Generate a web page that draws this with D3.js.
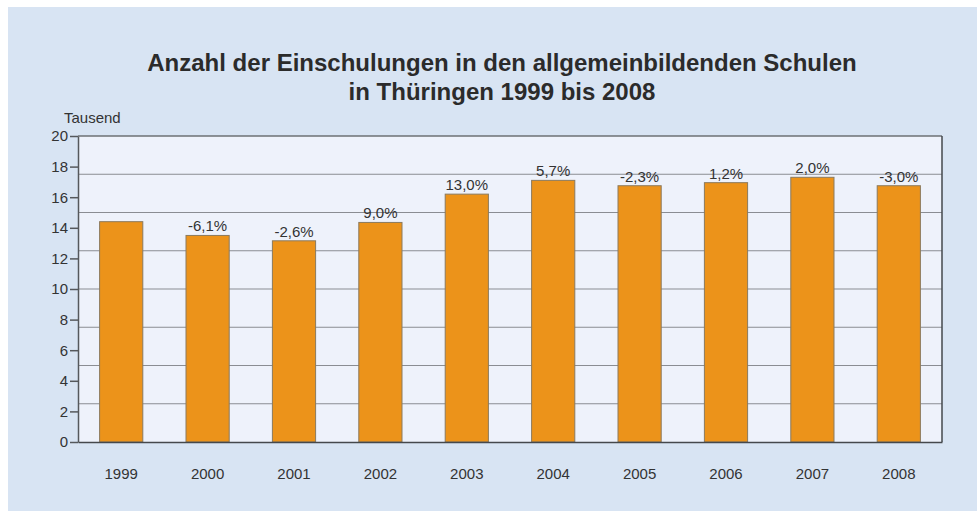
<!DOCTYPE html>
<html lang="de">
<head>
<meta charset="UTF-8">
<title>Einschulungen Thüringen</title>
<script src="https://cdn.jsdelivr.net/npm/d3@7"></script>
<style>
  body { margin: 0; background: #fff; }
  svg { display: block; font-family: "Liberation Sans", Arial, sans-serif; }
</style>
</head>
<body>
<svg width="977" height="511" id="mainsvg"></svg>
<script>
  const years = ['1999', '2000', '2001', '2002', '2003', '2004', '2005', '2006', '2007', '2008']
  const values = [14.4, 13.5, 13.15, 14.35, 16.2, 17.1, 16.75, 16.95, 17.3, 16.75]
  const changes = ['', '-6,1%', '-2,6%', '9,0%', '13,0%', '5,7%', '-2,3%', '1,2%', '2,0%', '-3,0%']
  const yTicks = [0, 2, 4, 6, 8, 10, 12, 14, 16, 18, 20]
  const gridValues = [2.5, 5, 7.5, 10, 12.5, 15, 17.5]

  const svg = d3.select('#mainsvg')
  const width = +svg.attr('width')
  const height = +svg.attr('height')
  const margin = { top: 136, right: 35, bottom: 69, left: 78 }
  const innerWidth = width - margin.left - margin.right
  const innerHeight = height - margin.top - margin.bottom

  // outer panel
  svg.append('rect').attr('x', 8).attr('y', 7)
    .attr('width', width - 8).attr('height', height - 7)
    .attr('fill', '#d8e4f3')

  svg.append('text').attr('x', 502).attr('y', 71)
    .attr('text-anchor', 'middle').attr('font-size', 24).attr('font-weight', 'bold')
    .attr('fill', '#2b2b2b').text('Anzahl der Einschulungen in den allgemeinbildenden Schulen')
  svg.append('text').attr('x', 502).attr('y', 100)
    .attr('text-anchor', 'middle').attr('font-size', 24).attr('font-weight', 'bold')
    .attr('fill', '#2b2b2b').text('in Thüringen 1999 bis 2008')

  const g = svg.append('g').attr('transform', `translate(${margin.left},${margin.top})`)

  const xScale = d3.scaleBand().domain(years).range([0, innerWidth])
    .paddingInner(0.5).paddingOuter(0.25)
  const yScale = d3.scaleLinear().domain([0, 20]).range([innerHeight, 0])

  g.append('rect').attr('width', innerWidth).attr('height', innerHeight).attr('fill', '#eef2fb')

  g.selectAll('.grid').data(gridValues).enter().append('line')
    .attr('class', 'grid')
    .attr('x1', 0).attr('x2', innerWidth)
    .attr('y1', d => yScale(d)).attr('y2', d => yScale(d))
    .attr('stroke', '#8a8d93').attr('stroke-width', 1)

  g.selectAll('.datarect').data(values).enter().append('rect')
    .attr('class', 'datarect')
    .attr('x', (d, i) => xScale(years[i]))
    .attr('y', d => yScale(d))
    .attr('width', xScale.bandwidth())
    .attr('height', d => innerHeight - yScale(d))
    .attr('fill', '#ec931a')
    .attr('stroke', '#8b7a5e').attr('stroke-width', 1)

  g.selectAll('.lbl').data(values).enter().append('text')
    .attr('class', 'lbl')
    .attr('x', (d, i) => xScale(years[i]) + xScale.bandwidth() / 2)
    .attr('y', d => yScale(d) - 4)
    .attr('text-anchor', 'middle').attr('font-size', 15).attr('fill', '#333')
    .text((d, i) => changes[i])

  // frame
  g.append('line').attr('x1', 0).attr('x2', innerWidth).attr('y1', 0).attr('y2', 0)
    .attr('stroke', '#6d7075').attr('stroke-width', 1.5)
  g.append('line').attr('x1', innerWidth).attr('x2', innerWidth).attr('y1', 0).attr('y2', innerHeight)
    .attr('stroke', '#45484c').attr('stroke-width', 1.5)

  const yAxis = d3.axisLeft(yScale).tickValues(yTicks).tickSize(8).tickSizeOuter(0)
  const yg = g.append('g').call(yAxis)
  yg.select('.domain').attr('stroke', '#55585c').attr('stroke-width', 1.5)
  yg.selectAll('.tick line').attr('stroke', '#55585c').attr('stroke-width', 1.5)
  yg.selectAll('.tick text').attr('font-size', 15).attr('fill', '#333')
    .attr('font-family', '"Liberation Sans", Arial, sans-serif').attr('x', -10)

  const xAxis = d3.axisBottom(xScale).tickSize(0).tickSizeOuter(0)
  const xg = g.append('g').attr('transform', `translate(0,${innerHeight})`).call(xAxis)
  xg.select('.domain').attr('stroke', '#45484c').attr('stroke-width', 1.5)
  xg.selectAll('.tick text').attr('font-size', 15).attr('fill', '#333').attr('dy', 0).attr('y', 37)
    .attr('font-family', '"Liberation Sans", Arial, sans-serif')

  g.append('text').text('Tausend').attr('x', -14).attr('y', -13)
    .attr('font-size', 15).attr('fill', '#333')
</script>
</body>
</html>
